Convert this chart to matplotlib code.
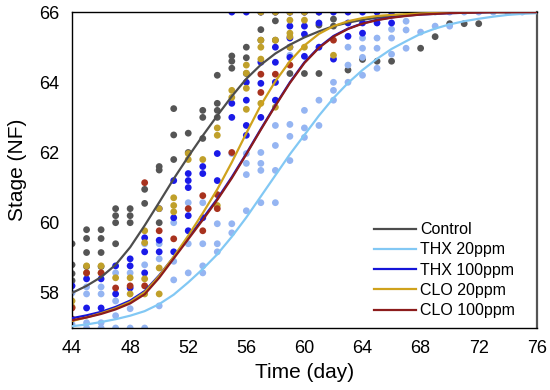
import matplotlib.pyplot as plt

plt.rcParams['font.family'] = ['Liberation Sans', 'DejaVu Sans']

# fitted curves, read at each day
days = list(range(44, 77))
control_fit = [58.0, 58.2, 58.45, 58.8, 59.3, 59.92, 60.58, 61.25, 61.88, 62.48, 63.05,
               63.6, 64.1, 64.5, 64.82, 65.07, 65.28, 65.45, 65.6, 65.7, 65.78, 65.84,
               65.88, 65.92, 65.95, 65.97, 65.98, 65.99, 66.0, 66.0, 66.0, 66.0, 66.0]
thx20_fit = [57.05, 57.1, 57.17, 57.25, 57.35, 57.48, 57.68, 57.95, 58.3, 58.68, 59.1,
             59.6, 60.15, 60.75, 61.35, 61.95, 62.5, 63.05, 63.55, 63.98, 64.35, 64.67,
             64.95, 65.17, 65.38, 65.53, 65.65, 65.74, 65.81, 65.87, 65.92, 65.95, 65.97]
thx100_fit = [57.28, 57.36, 57.46, 57.6, 57.78, 58.05, 58.5, 59.02, 59.57, 60.12, 60.68,
              61.3, 61.97, 62.67, 63.35, 64.0, 64.57, 65.0, 65.32, 65.53, 65.68, 65.78,
              65.85, 65.9, 65.93, 65.95, 65.97, 65.98, 65.99, 66.0, 66.0, 66.0, 66.0]
clo20_fit = [57.2, 57.3, 57.42, 57.56, 57.74, 58.02, 58.48, 59.03, 59.63, 60.27, 60.95,
             61.72, 62.55, 63.35, 64.03, 64.6, 65.05, 65.38, 65.6, 65.74, 65.83, 65.89,
             65.92, 65.94, 65.96, 65.97, 65.98, 65.99, 66.0, 66.0, 66.0, 66.0, 66.0]
clo100_fit = [57.22, 57.3, 57.4, 57.53, 57.7, 57.96, 58.43, 58.98, 59.53, 60.08, 60.65,
              61.27, 61.95, 62.65, 63.33, 63.98, 64.55, 64.98, 65.3, 65.52, 65.67, 65.77,
              65.84, 65.89, 65.93, 65.95, 65.97, 65.98, 65.99, 66.0, 66.0, 66.0, 66.0]

# individual observations: day -> stages
control_pts = {44: [59.4, 58.8, 58.55, 58.35], 45: [59.8, 59.55, 59.15, 58.75],
               46: [59.8, 59.55, 59.15, 58.75], 47: [60.4, 60.2, 60.0, 59.4],
               48: [60.4, 60.2, 60.0], 49: [60.95, 60.55], 50: [61.6, 61.5, 60.0],
               51: [63.25, 62.5, 61.8], 52: [62.55, 62.0], 53: [63.2, 63.0, 62.4],
               54: [64.2, 63.4, 63.2, 63.0], 55: [64.75, 64.6, 64.4],
               56: [65.0, 64.7, 64.25], 57: [66.0, 65.5, 65.2], 58: [66.0, 65.75, 65.2],
               59: [66.0, 64.25], 60: [66.0, 64.25], 61: [66.0, 65.63, 64.25],
               62: [65.8, 65.6], 63: [64.35], 64: [64.65], 65: [64.6], 66: [64.6],
               68: [64.97], 69: [65.3], 70: [65.67], 71: [65.67], 72: [65.67]}
thx20_pts = {44: [58.0, 57.1], 45: [58.17, 57.97, 57.15, 57.0], 46: [58.17, 57.97, 57.15, 57.0],
             47: [58.57, 57.77, 57.35, 57.0], 48: [58.57, 57.55, 57.0], 49: [59.4, 58.8, 57.0],
             50: [59.4, 58.97, 57.63], 51: [60.0, 58.9, 58.37], 52: [60.57, 59.4, 58.57],
             53: [60.57, 59.4, 58.77, 58.57], 54: [59.97, 59.4, 59.17],
             55: [61.97, 59.97, 59.71], 56: [61.97, 61.69, 61.37, 60.34],
             57: [62.0, 61.69, 61.49, 60.57], 58: [64.0, 62.77, 62.2, 61.49, 60.57],
             59: [64.77, 62.8, 62.46, 61.77], 60: [63.2, 62.7, 62.43], 61: [63.49, 62.77],
             62: [64.0, 63.77, 63.49], 63: [65.0, 64.49, 64.0], 64: [65.26, 64.97, 64.71, 64.2],
             65: [65.26, 64.97, 64.4], 66: [65.51, 65.26, 64.8], 67: [66.0, 65.74, 65.49, 64.97],
             68: [66.0, 65.43], 69: [66.0, 65.6], 70: [66.0, 65.6], 71: [66.0], 72: [66.0],
             73: [66.0], 74: [66.0], 75: [66.0]}
thx100_pts = {44: [58.2], 45: [58.4, 57.57], 46: [58.4, 57.57], 47: [58.77, 57.97],
              48: [58.97, 58.77, 58.14], 49: [59.57, 59.17, 58.57], 50: [60.4, 59.5, 59.17],
              51: [61.2, 60.14, 59.17], 52: [61.4, 61.2, 61.0, 60.2, 59.77],
              53: [61.6, 61.4, 60.14], 54: [61.97, 61.2], 55: [66.0, 63.4, 63.0],
              56: [66.0, 64.0, 63.49, 62.77, 62.49], 57: [66.0, 64.57, 63.97, 63.0],
              58: [66.0, 65.0, 64.57, 64.0, 63.49], 59: [66.0, 65.6, 65.26, 65.0, 64.71],
              60: [66.0, 65.6, 65.37, 64.74], 61: [66.0, 65.69, 65.0], 62: [66.0, 64.66],
              63: [66.0, 65.69, 65.31], 64: [66.0, 65.69, 65.4], 65: [66.0, 65.69], 66: [66.0, 65.69]}
clo20_pts = {44: [57.77, 57.6], 45: [58.77, 58.57], 46: [58.77, 58.57], 47: [58.43],
             48: [58.43, 57.97], 49: [59.77, 59.43, 58.4, 57.97], 50: [60.4, 58.71, 57.97],
             51: [60.71, 60.49, 60.31], 52: [61.97, 61.8], 53: [61.8],
             54: [62.7, 62.49, 60.49], 55: [63.77, 63.57], 56: [64.49, 64.26, 63.83, 63.23],
             57: [66.0, 65.2, 65.0, 64.66, 63.4], 58: [66.0, 65.2, 63.29],
             59: [66.0, 65.77, 65.4, 65.3, 65.0], 60: [66.0, 65.77, 65.0], 62: [64.77]}
clo100_pts = {44: [57.57, 57.26], 45: [58.57], 46: [58.57], 47: [58.14], 48: [58.2],
              49: [61.14, 58.2], 50: [59.77], 51: [59.54], 52: [60.4], 53: [60.77, 59.77],
              54: [60.8, 60.4], 55: [62.0], 57: [64.23, 63.71], 58: [64.23], 59: [64.49],
              62: [65.2]}

labels = ['Control', 'THX 20ppm', 'THX 100ppm', 'CLO 20ppm', 'CLO 100ppm']
fits = [control_fit, thx20_fit, thx100_fit, clo20_fit, clo100_fit]
points = [control_pts, thx20_pts, thx100_pts, clo20_pts, clo100_pts]
line_colors = ['#4d4d4d', '#82c8f4', '#1515d8', '#cfa21c', '#8c1c1c']
dot_colors = ['#555555', '#95b5f2', '#1a1ae8', '#c0a02a', '#a8321e']

fig, ax = plt.subplots(figsize=(5.5, 3.9), dpi=100)
fig.subplots_adjust(left=0.131, right=0.976, bottom=0.159, top=0.969)

for pts, col in zip(points, dot_colors):
    xs = [d for d, vals in pts.items() for v in vals]
    ys = [v for d, vals in pts.items() for v in vals]
    ax.scatter(xs, ys, s=24, color=col, edgecolors='none', zorder=2)

for fit, col, lab in zip(fits, line_colors, labels):
    ax.plot(days, fit, color=col, lw=1.6, label=lab, zorder=3)

ax.set_xlim(44, 76)
ax.set_ylim(57, 66)
ax.set_xticks(range(44, 77, 4))
ax.set_yticks(range(58, 67, 2))
ax.tick_params(length=0, labelsize=13, pad=9)
ax.set_xlabel('Time (day)', fontsize=15, labelpad=4)
ax.set_ylabel('Stage (NF)', fontsize=15, labelpad=9)
for sp in ax.spines.values():
    sp.set_color('black')
    sp.set_linewidth(1.0)
ax.spines['right'].set_color('#555555')
ax.spines['right'].set_linewidth(1.6)

ax.legend(loc='upper left', bbox_to_anchor=(0.65, 0.335), frameon=False,
          fontsize=11.5, handlelength=2.6, handletextpad=0.3, labelspacing=0.33,
          borderpad=0, borderaxespad=0)

plt.savefig('out.png', dpi=100)
